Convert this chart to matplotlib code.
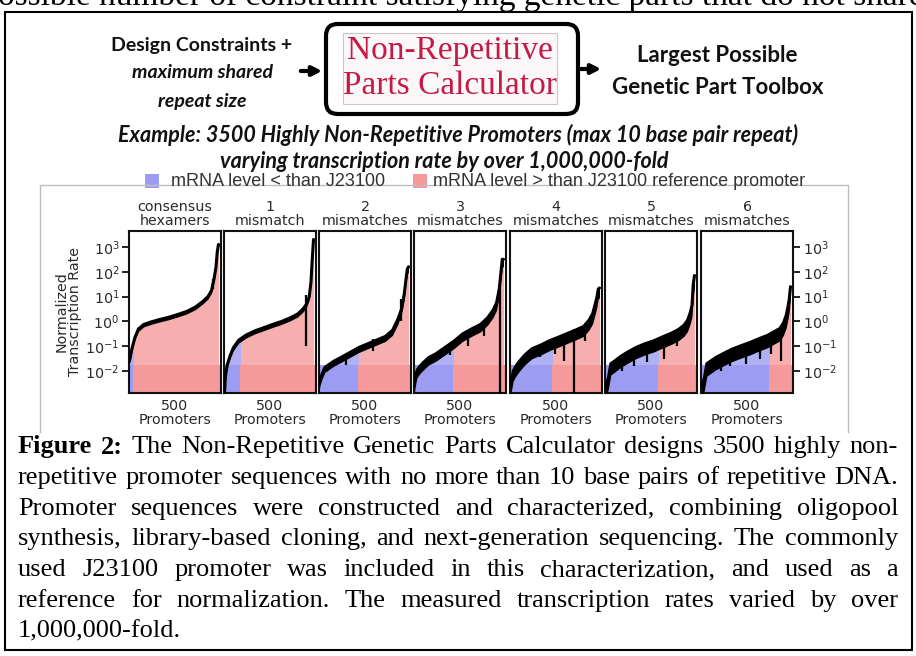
import matplotlib
matplotlib.use("Agg")
import matplotlib.pyplot as plt
from matplotlib.patches import FancyBboxPatch, Rectangle

W, H = 916, 656

# ---- data ----
PANEL_TITLES = ["consensus\nhexamers", "1\nmismatch", "2\nmismatches", "3\nmismatches",
                "4\nmismatches", "5\nmismatches", "6\nmismatches"]
PANEL_COUNTS = [500, 500, 500, 500, 500, 500, 500]

# promoter rank (sorted) at which the curve was sampled
X_POS = [0, 5, 15, 30, 50, 80, 120, 170, 220, 270, 320, 370, 410, 440, 460, 475, 485, 492, 499]

# log10 of normalized transcription rate at X_POS
LOG_RATE_0 = [-1.6, -1.4, -1.05, -0.65, -0.3, -0.12, -0.02, 0.08, 0.17, 0.28, 0.4, 0.58, 0.8, 1.0, 1.25, 1.75, 2.2, 2.8, 3.1]
LOG_RATE_1 = [-2.8, -2.2, -1.75, -1.4, -1.05, -0.75, -0.55, -0.38, -0.25, -0.12, 0.0, 0.15, 0.3, 0.5, 0.7, 1.0, 1.6, 2.5, 3.3]
LOG_RATE_2 = [-2.5, -2.3, -2.1, -1.85, -1.75, -1.6, -1.45, -1.25, -1.05, -0.9, -0.75, -0.6, -0.35, 0.1, 0.5, 1.1, 1.7, 2.1, 2.2]
LOG_RATE_3 = [-2.6, -2.2, -1.95, -1.8, -1.65, -1.45, -1.3, -1.05, -0.8, -0.5, -0.3, -0.12, 0.15, 0.45, 0.75, 1.3, 2.0, 2.5, 2.5]
LOG_RATE_4 = [-2.6, -2.4, -2.0, -1.8, -1.6, -1.35, -1.1, -0.95, -0.77, -0.63, -0.48, -0.33, -0.2, 0.05, 0.3, 0.7, 1.0, 1.3, 1.35]
LOG_RATE_5 = [-2.6, -2.5, -2.3, -1.7, -1.6, -1.43, -1.25, -1.05, -0.9, -0.78, -0.62, -0.47, -0.32, -0.15, 0.05, 0.35, 0.65, 1.5, 1.85]
LOG_RATE_6 = [-2.6, -2.5, -2.3, -1.7, -1.6, -1.45, -1.3, -1.12, -0.98, -0.85, -0.7, -0.56, -0.4, -0.28, -0.05, 0.25, 0.6, 0.9, 1.4]

# promoters ranked below this index have mRNA level < J23100
BLUE_UNTIL = [20, 85, 217, 215, 235, 296, 380]

# (rank, log10 low, log10 high) single outliers hanging off the curve
SPIKES_0 = [(470, 1.3, 1.7)]
SPIKES_1 = [(455, -1.0, 1.05), (3, -2.9, -2.3)]
SPIKES_2 = [(455, 0.0, 0.9), (300, -1.2, -0.7), (150, -1.75, -1.3)]
SPIKES_3 = [(479, -2.9, 1.5), (390, -0.6, 0.0), (300, -1.0, -0.4), (200, -1.35, -0.9)]
SPIKES_4 = [(355, -2.9, -0.3), (300, -1.6, -0.5), (168, -1.45, -0.9), (420, -0.8, -0.1), (250, -1.3, -0.7)]
SPIKES_5 = [(157, -1.8, -1.1), (230, -1.65, -0.9), (330, -1.5, -0.6), (400, -1.0, -0.35), (90, -2.0, -1.45)]
SPIKES_6 = [(445, -1.6, -0.3), (160, -1.8, -1.15), (250, -1.7, -0.9), (330, -1.5, -0.7), (390, -1.3, -0.5), (110, -2.0, -1.3)]

LOG_RATES = [LOG_RATE_0, LOG_RATE_1, LOG_RATE_2, LOG_RATE_3, LOG_RATE_4, LOG_RATE_5, LOG_RATE_6]
SPIKES = [SPIKES_0, SPIKES_1, SPIKES_2, SPIKES_3, SPIKES_4, SPIKES_5, SPIKES_6]

CAPTION = [
    [("Figure", True), ("2:", True)] + [(w, False) for w in
        "The Non-Repetitive Genetic Parts Calculator designs 3500 highly non-".split()],
    [(w, False) for w in "repetitive promoter sequences with no more than 10 base pairs of repetitive DNA.".split()],
    [(w, False) for w in "Promoter sequences were constructed and characterized, combining oligopool".split()],
    [(w, False) for w in "synthesis, library-based cloning, and next-generation sequencing. The commonly".split()],
    [(w, False) for w in "used J23100 promoter was included in this characterization, and used as a".split()],
    [(w, False) for w in "reference for normalization. The measured transcription rates varied by over".split()],
    [(w, False) for w in "1,000,000-fold.".split()],
]

# ---- styles ----
BLUE_BAND, BLUE_FILL = "#9c9cf2", "#b0b0f5"
PINK_BAND, PINK_FILL = "#f59a9a", "#f7aeae"
NOISE_W = [0.1, 0.12, 0.2, 0.3, 0.4, 0.45, 0.5]
PANEL_LEFT = [129, 224, 319, 414, 510, 605, 701]
PANEL_W, PANEL_TOP, PANEL_BOTTOM = 92, 231, 393
Y_LO, Y_HI = -2.88, 3.64
BAND_TOP = -1.75
TXT = "#2a2a2a"
PANEL_FS = 10.3

fig = plt.figure(figsize=(W / 100, H / 100), dpi=100)
bg = fig.add_axes([0, 0, 1, 1])
bg.set_xlim(0, W)
bg.set_ylim(H, 0)
bg.axis("off")

# page text cut off at the top
bg.text(-2, 5, "ossible number of constraint satisfying genetic parts that do not share",
        fontsize=24, family="Liberation Serif", va="baseline", ha="left", color="k")
bg.add_patch(Rectangle((5, 12), 907, 638, fc="white", ec="k", lw=1.5))

# header diagram
hfont = "Lato"
bg.text(202, 46, "Design Constraints +", fontsize=14, family=hfont, weight="bold", ha="center", va="center", color="#111")
bg.text(202, 73, "maximum shared", fontsize=14, family=hfont, weight="bold", style="italic", ha="center", va="center", color="#111")
bg.text(202, 101, "repeat size", fontsize=14, family=hfont, weight="bold", style="italic", ha="center", va="center", color="#111")
bg.add_patch(FancyBboxPatch((326, 24), 252, 90, boxstyle="round,pad=0,rounding_size=12",
                            fc="white", ec="k", lw=3))
bg.add_patch(Rectangle((343, 33), 214, 71, fc="#fcf8f9", ec="#c8c8c8", lw=0.8))
bg.text(450, 51, "Non-Repetitive", fontsize=24, family="Liberation Serif", color="#c41a45", ha="center", va="center")
bg.text(450, 86, "Parts Calculator", fontsize=24, family="Liberation Serif", color="#c41a45", ha="center", va="center")
bg.annotate("", xy=(325, 71), xytext=(298, 71),
            arrowprops=dict(arrowstyle="-|>", lw=3, color="k", mutation_scale=14))
bg.annotate("", xy=(604, 69), xytext=(578, 69),
            arrowprops=dict(arrowstyle="-|>", lw=3, color="k", mutation_scale=14))
bg.text(717, 55, "Largest Possible", fontsize=16, family=hfont, weight="bold", ha="center", va="center", color="#111")
bg.text(718, 88, "Genetic Part Toolbox", fontsize=16, family=hfont, weight="bold", ha="center", va="center", color="#111")
bg.text(458, 135, "Example: 3500 Highly Non-Repetitive Promoters (max 10 base pair repeat)",
        fontsize=15.5, family=hfont, weight="bold", style="italic", ha="center", va="center", color="#111")
bg.text(444, 162, "varying transcription rate by over 1,000,000-fold",
        fontsize=15.5, family=hfont, weight="bold", style="italic", ha="center", va="center", color="#111")

# inner figure frame and legend
bg.plot([40, 40, 848, 848], [432, 185, 185, 432], color="#bdbdbd", lw=1)
bg.add_patch(Rectangle((145, 174), 14, 14, fc=BLUE_BAND, ec="none"))
bg.text(171, 181, "mRNA level < than J23100", fontsize=13, family="Liberation Sans",
        va="center", ha="left", color="#333")
bg.add_patch(Rectangle((413, 174), 14, 14, fc=PINK_BAND, ec="none"))
bg.text(433, 181, "mRNA level > than J23100 reference promoter", fontsize=13, family="Liberation Sans",
        va="center", ha="left", color="#333")

# panels
for i in range(7):
    ax = fig.add_axes([PANEL_LEFT[i] / W, (H - PANEL_BOTTOM) / H, PANEL_W / W,
                       (PANEL_BOTTOM - PANEL_TOP) / H])
    ax.set_yscale("log")
    xmin, xmax = -3, PANEL_COUNTS[i] + 13
    ax.set_xlim(xmin, xmax)
    ax.set_ylim(10 ** Y_LO, 10 ** Y_HI)
    rate = [10 ** v for v in LOG_RATES[i]]
    split = BLUE_UNTIL[i]

    ax.fill_between(X_POS, 10 ** Y_LO, rate, color=PINK_FILL, lw=0, zorder=1)
    blue = ax.fill_between(X_POS, 10 ** Y_LO, rate, color=BLUE_FILL, lw=0, zorder=1.1)
    blue.set_clip_path(Rectangle((xmin - 5, 1e-5), split - xmin + 5, 1e8, transform=ax.transData))
    ax.fill_between([xmin, split], 10 ** Y_LO, 10 ** BAND_TOP, color=BLUE_BAND, lw=0, zorder=1.5)
    ax.fill_between([split, xmax], 10 ** Y_LO, 10 ** BAND_TOP, color=PINK_BAND, lw=0, zorder=1.5)

    ax.fill_between(X_POS, [10 ** (v - NOISE_W[i]) for v in LOG_RATES[i]], rate,
                    color="k", lw=0, zorder=3)
    ax.plot(X_POS, rate, color="k", lw=2.2, zorder=3, solid_capstyle="round")
    for idx, lo, hi in SPIKES[i]:
        ax.vlines(idx, 10 ** lo, 10 ** hi, color="k", lw=1.6, zorder=3)

    for s in ax.spines.values():
        s.set_linewidth(1.5)
        s.set_color("#111")
    ax.set_xticks([])
    ax.minorticks_off()
    ax.set_yticks([1e-2, 1e-1, 1, 1e1, 1e2, 1e3])
    ax.tick_params(axis="y", which="minor", length=0)
    if i == 0:
        ax.tick_params(axis="y", length=5, width=1.2, labelsize=PANEL_FS, labelcolor=TXT, pad=2)
        ax.set_ylabel("Normalized\nTranscription Rate", fontsize=PANEL_FS, color=TXT, labelpad=2, linespacing=0.95)
    elif i == 6:
        ax.yaxis.tick_right()
        ax.tick_params(axis="y", length=5, width=1.2, labelsize=PANEL_FS, labelcolor=TXT, pad=2)
    else:
        ax.tick_params(axis="y", length=0, labelleft=False)
    ax.set_title(PANEL_TITLES[i], fontsize=PANEL_FS, color=TXT, pad=4, linespacing=1.0)
    ax.text(0.5, -0.04, f"{PANEL_COUNTS[i]}\nPromoters", transform=ax.transAxes,
            fontsize=PANEL_FS, color=TXT, ha="center", va="top", linespacing=1.0)

# justified caption
renderer = fig.canvas.get_renderer()
CAP_X0, CAP_X1, CAP_Y0, CAP_DY = 18, 898, 447, 30.8
for row, words in enumerate(CAPTION):
    y = CAP_Y0 + row * CAP_DY
    texts = [bg.text(0, y, w, fontsize=19, family="Liberation Serif",
                     weight="bold" if b else "normal", va="center", ha="left", color="k")
             for w, b in words]
    widths = [t.get_window_extent(renderer).width for t in texts]
    last = row == len(CAPTION) - 1
    gap = 6.0 if last or len(words) < 2 else (CAP_X1 - CAP_X0 - sum(widths)) / (len(words) - 1)
    x = CAP_X0
    for t, wd in zip(texts, widths):
        t.set_x(x)
        x += wd + gap

fig.savefig("out.png", dpi=100)
